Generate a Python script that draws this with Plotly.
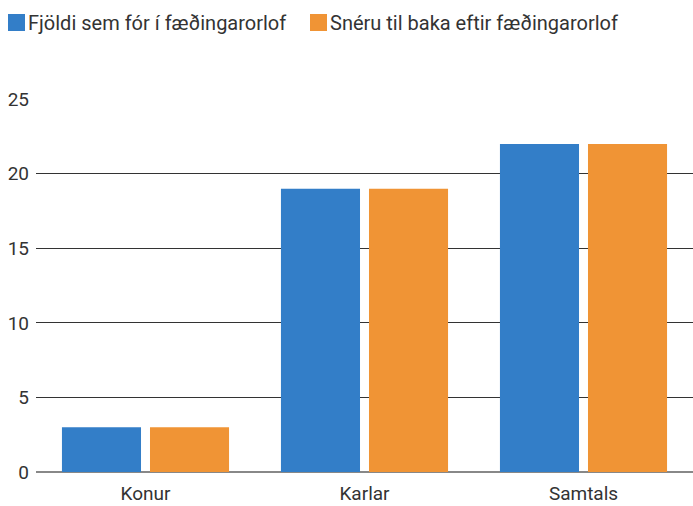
import plotly.graph_objects as go

categories = ["Konur", "Karlar", "Samtals"]
series_names = ["Fjöldi sem fór í fæðingarorlof", "Snéru til baka eftir fæðingarorlof"]
went_on_leave = [3, 19, 22]
returned = [3, 19, 22]
y_ticks = [0, 5, 10, 15, 20, 25]

colors = ["#337ec8", "#f09435"]
font_family = "Roboto, sans-serif"

fig = go.Figure()
fig.add_trace(go.Bar(x=categories, y=went_on_leave, name=series_names[0],
                     marker=dict(color=colors[0], line=dict(width=0))))
fig.add_trace(go.Bar(x=categories, y=returned, name=series_names[1],
                     marker=dict(color=colors[1], line=dict(width=0))))

# custom legend (squares + labels) placed in paper coordinates
legend_sq_x = [-0.0297, 0.4300]
legend_tx_x = [-0.0137, 0.4460]
legend_y = 1.2040
annotations = []
for i in range(2):
    annotations.append(dict(xref="paper", yref="paper", x=legend_sq_x[i], y=legend_y,
                            xanchor="center", yanchor="middle", text="", showarrow=False,
                            width=17, height=17, bgcolor=colors[i], borderpad=0,
                            borderwidth=0))
    annotations.append(dict(xref="paper", yref="paper", x=legend_tx_x[i], y=legend_y,
                            xanchor="left", yanchor="middle", text=series_names[i],
                            showarrow=False, borderpad=0,
                            font=dict(family=font_family, size=20, color="#333333")))

fig.update_layout(
    width=693, height=506,
    margin=dict(l=36, r=0, t=99, b=34, autoexpand=False),
    paper_bgcolor="white", plot_bgcolor="white",
    barmode="group", bargap=0.196, bargroupgap=0.102,
    font=dict(family=font_family, size=19, color="#333333"),
    showlegend=False,
    annotations=annotations,
    xaxis=dict(showgrid=False, ticks="", showline=False, automargin=False,
               tickfont=dict(size=19), ticklabelstandoff=8),
    yaxis=dict(range=[0, 25.02], tickvals=y_ticks, showgrid=True, gridcolor="#333333",
               gridwidth=1, zeroline=True, zerolinecolor="#888888", zerolinewidth=2,
               ticks="", showline=False, automargin=False, ticklabelstandoff=6,
               tickfont=dict(size=19)),
)

fig.write_html("out.html", config={"displayModeBar": False},
               post_script="document.body.style.margin='0';")
